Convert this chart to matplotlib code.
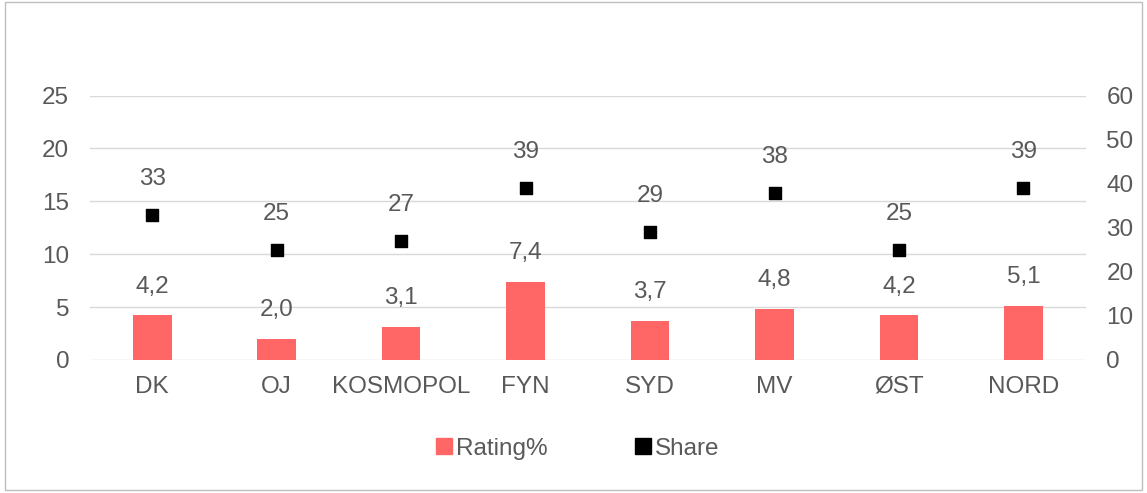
import matplotlib
matplotlib.use("Agg")
import matplotlib.pyplot as plt
from matplotlib.patches import Rectangle
from matplotlib.lines import Line2D
import numpy as np

plt.rcParams['font.family'] = ['Liberation Sans', 'DejaVu Sans']

categories = ["DK", "OJ", "KOSMOPOL", "FYN", "SYD", "MV", "ØST", "NORD"]
rating = [4.2, 2.0, 3.1, 7.4, 3.7, 4.8, 4.2, 5.1]
share = [33, 25, 27, 39, 29, 38, 25, 39]

bar_color = "#FF6666"
text_color = "#595959"
grid_color = "#D9D9D9"
fs = 17.5

fig = plt.figure(figsize=(11.47, 4.93), dpi=100)
ax = fig.add_axes([0.0785, 0.270, 0.868, 0.536])
ax2 = ax.twinx()

x = np.arange(len(categories))
ax.bar(x, rating, width=0.31, color=bar_color, zorder=2)
ax.set_xlim(-0.5, len(categories) - 0.5)
ax.set_ylim(0, 25)
ax.set_yticks([0, 5, 10, 15, 20, 25])
ax.grid(axis='y', color=grid_color, linewidth=1, zorder=0)
ax.set_axisbelow(True)
ax.set_xticks(x)
ax.set_xticklabels(categories)
ax.tick_params(axis='both', length=0, labelsize=fs, colors=text_color)
ax.tick_params(axis='x', pad=11.5)
ax.tick_params(axis='y', pad=15)
for s in ax.spines.values():
    s.set_visible(False)
for s in ax2.spines.values():
    s.set_visible(False)

for xi, v in zip(x, rating):
    ax.annotate(f"{v:.1f}".replace('.', ','), (xi, v), xytext=(0, 16.5),
                textcoords='offset points', ha='center', va='baseline',
                fontsize=fs, color=text_color)

ax2.scatter(x, share, marker='s', s=85, color='black', zorder=3)
ax2.set_ylim(0, 60)
ax2.set_yticks([0, 10, 20, 30, 40, 50, 60])
ax2.tick_params(axis='y', length=0, labelsize=fs, colors=text_color, pad=15)
for xi, v in zip(x, share):
    ax2.annotate(f"{v}", (xi, v), xytext=(0, 21.5),
                 textcoords='offset points', ha='center', va='baseline',
                 fontsize=fs, color=text_color)

handles = [
    Line2D([], [], marker='s', linestyle='none', markersize=11, color=bar_color),
    Line2D([], [], marker='s', linestyle='none', markersize=11, color='black'),
]
fig.legend(handles, ["Rating%", "Share"], loc='center', bbox_to_anchor=(0.502, 0.09),
           ncol=2, frameon=False, fontsize=fs, labelcolor=text_color,
           handletextpad=0.0, columnspacing=3.4, handlelength=1.0)

fig.patches.append(Rectangle((0.004, 0.006), 0.992, 0.99, transform=fig.transFigure,
                             fill=False, edgecolor="#BFBFBF", linewidth=1))

fig.savefig("out.png", dpi=100)
